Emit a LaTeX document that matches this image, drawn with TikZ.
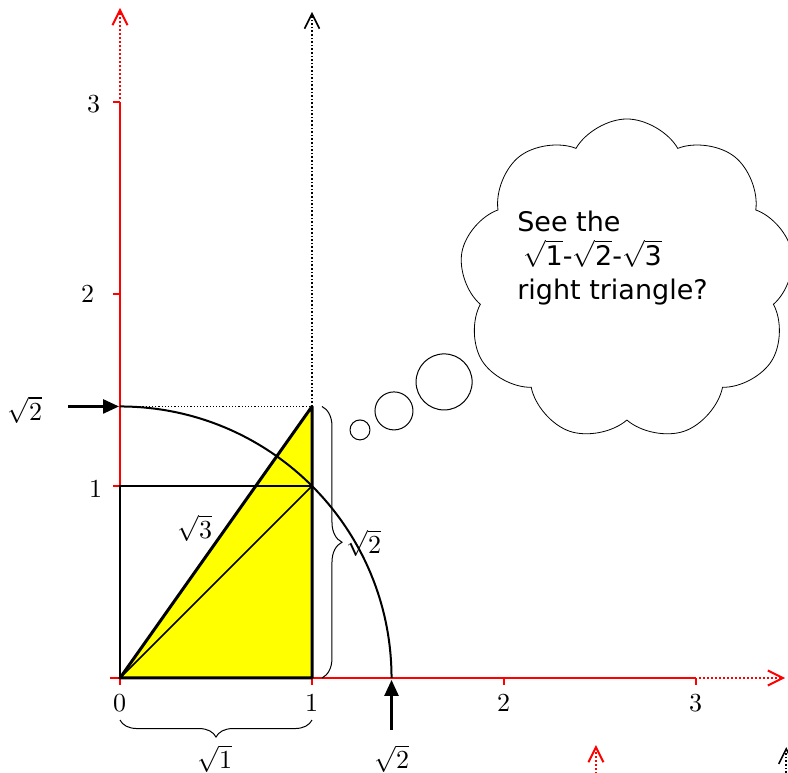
\documentclass[tikz,border=0pt]{standalone}
\usepackage{fontspec}
\usepackage{unicode-math}
\setmathfont{Latin Modern Math}
\newfontfamily\cloudfont{DejaVu Sans}
\usetikzlibrary{arrows.meta,positioning,shapes.symbols,decorations.pathreplacing}
\definecolor{axisred}{RGB}{255,0,0}
\definecolor{fillyellow}{RGB}{255,255,0}

\begin{document}
\begin{tikzpicture}[x=192pt,y=192pt,
  axis/.style={draw=axisred,line width=2pt},
  axisdots/.style={draw=axisred,line width=2pt,dotted,
    -{Straight Barb[length=15pt,width=15pt,line width=2pt,line cap=butt]}},
  guidedots/.style={draw=black,line width=1.6pt,dotted,
    -{Straight Barb[length=15pt,width=15pt,line width=1.6pt]}},
  axtick/.style={draw=axisred,line width=2pt},
  edge/.style={draw=black,line width=2pt},
  thickedge/.style={draw=black,line width=3pt,line join=round},
  pointer/.style={draw=black,line width=2.5pt,-{Triangle[length=16pt,width=14pt]}},
  brc/.style={draw=black,line width=1pt,decorate},
  numlab/.style={inner sep=0pt,font=\fontsize{26}{30}\selectfont},
  rootlab/.style={inner sep=0pt,font=\fontsize{26}{30}\selectfont},
  bubble/.style={draw=black,line width=1pt}
]
\useasboundingbox (-0.625,-0.4948) rectangle (3.4792,3.53125);

% key points
\coordinate (O) at (0,0);
\coordinate (A) at (1,0);
\coordinate (B) at (1,1);
\coordinate (C) at (1,1.4142);
\coordinate (D) at (0,1);
\coordinate (E) at (0,1.4142);
\coordinate (F) at (1.4142,0);

% yellow triangle
\fill[fillyellow] (O) -- (A) -- (C) -- cycle;

% axes
\coordinate (xl) at (-0.05,0);
\coordinate (x3) at (3,0);
\coordinate (xtip) at (3.464,0);
\coordinate (y3) at (0,3);
\coordinate (ytip) at (0,3.49);
\draw[axis] (xl) -- (x3);
\draw[axisdots] ([xshift=3pt]x3) -- (xtip);
\draw[axis] (O) -- (y3);
\draw[axisdots] ([yshift=3pt]y3) -- (ytip);
\foreach \i in {0,1,2,3} {
  \draw[axtick] (\i,0) -- ++(0,-7pt);
}
\foreach \i in {1,2,3} {
  \draw[axtick] (0,\i) -- ++(-7pt,0);
}

% tick labels
\node[numlab] (x0) at (0,-0.13) {$0$};
\node[numlab] (x1) at (1,-0.13) {$1$};
\node[numlab] (x2) at (2,-0.13) {$2$};
\node[numlab] (x3l) at (3,-0.13) {$3$};
\node[numlab] (y1) at (-0.125,0.984) {$1$};
\node[numlab] (y2) at (-0.167,2.0) {$2$};
\node[numlab] (y3l) at (-0.135,2.99) {$3$};

% dotted guides
\coordinate (gtip) at (1,3.469);
\draw[guidedots] (C) -- (gtip);
\draw[draw=black,line width=1.2pt,dotted] (E) -- (C);

% circle arc of radius sqrt 2
\draw[edge] (E) arc[start angle=90,end angle=0,radius=1.4142];

% unit square and diagonal
\draw[edge] (O) -- (D) -- (B);
\draw[draw=black,line width=1.5pt] (O) -- (B);

% triangle outline
\draw[thickedge] (O) -- (A) -- (C) -- cycle;

% pointers
\coordinate (lpt) at (-0.27,1.4142);
\coordinate (ltip) at (-0.005,1.4142);
\draw[pointer] (lpt) -- (ltip);
\coordinate (bpt) at (1.4142,-0.271);
\coordinate (btip) at (1.4142,-0.01);
\draw[pointer] (bpt) -- (btip);
\node[rootlab] (lroot) at (-0.495,1.396) {$\sqrt{2}$};
\node[rootlab] (broot) at (1.417,-0.42) {$\sqrt{2}$};
\node[rootlab] (hyp) at (0.39,0.78) {$\sqrt{3}$};

% braces
\coordinate (bra) at (1,-0.219);
\coordinate (brb) at (0,-0.219);
\draw[brc,decoration={brace,amplitude=17pt}] (bra) -- (brb);
\node[rootlab] (base) at (0.495,-0.42) {$\sqrt{1}$};
\coordinate (brc1) at (1.052,1.4142);
\coordinate (brc2) at (1.052,0);
\draw[brc,decoration={brace,amplitude=20pt}] (brc1) -- (brc2);
\node[rootlab] (side) at (1.27,0.703) {$\sqrt{2}$};

% stray arrow tips at the bottom
\coordinate (rs) at (2.479,-0.52);
\coordinate (rt) at (2.479,-0.349);
\draw[axisdots] (rs) -- (rt);
\coordinate (ks) at (3.47,-0.55);
\coordinate (kt) at (3.47,-0.36);
\draw[guidedots] (ks) -- (kt);

% thought cloud
\node[cloud,draw,line width=0.8pt,cloud puffs=9,cloud puff arc=120,aspect=1.05,
  minimum width=335pt,minimum height=322pt,inner sep=0pt] (thought) at (2.64,2.073) {};
\node[inner sep=0pt,anchor=west,align=left,
  font=\cloudfont\fontsize{27}{34}\selectfont] (msg) at (2.068,2.1875)
  {See the\\\hspace{6pt}$\sqrt{\mbox{1}}$-$\sqrt{\mbox{2}}$-$\sqrt{\mbox{3}}$\\right triangle?};
\draw[bubble] (1.688,1.542) circle[radius=0.146];
\draw[bubble] (1.427,1.391) circle[radius=0.099];
\draw[bubble] (1.25,1.292) circle[radius=0.052];
\end{tikzpicture}
\end{document}
